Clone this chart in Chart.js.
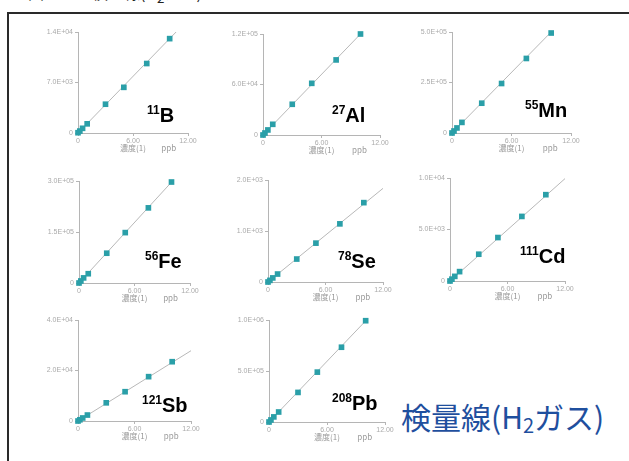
<!DOCTYPE html>
<html>
<head>
<meta charset="utf-8">
<script src="https://cdn.jsdelivr.net/npm/chart.js@4"></script>
<style>
  body { margin: 0; background: #fff; width: 629px; height: 461px; overflow: hidden; position: relative; font-family: "Liberation Sans", Arial, sans-serif; }
  .frame { position: absolute; left: 7px; top: 12px; width: 700px; height: 500px; border-top: 2px solid #2a2a2a; border-left: 2px solid #2a2a2a; }
  .fig { position: absolute; left: 28px; top: -16px; font: 16px "Noto Sans CJK JP"; line-height: 16px; color: #222; white-space: nowrap; }
  .panel { position: absolute; }
  .el { position: absolute; font-size: 20px; font-weight: bold; line-height: 20px; color: #000; white-space: nowrap; }
  .el span { font-size: 12px; position: relative; top: -8px; }
  .note { position: absolute; left: 401px; top: 396px; font: 30px "Noto Sans CJK JP"; line-height: 40px; color: #1f4f9e; white-space: nowrap; }
  .note sub { font-size: 20px; vertical-align: -4px; line-height: 0; }
</style>
</head>
<body>
<div class="fig">図　　　検量線(H<sub>2</sub>ガス)</div>
<div class="frame"></div>
<div id="wrap"></div>
<div class="note">検量線(H<sub>2</sub>ガス)</div>
<script>
// calibration standards, ppb
const conc = [0, 0.2, 0.5, 1, 3, 5, 7.5, 10];
const fitX = [0, 12];

const elements = ['B', 'Al', 'Mn', 'Fe', 'Se', 'Cd', 'Sb', 'Pb'];
const masses = ['11', '27', '55', '56', '78', '111', '121', '208'];
const yTop = [14000, 120000, 500000, 300000, 2000, 10000, 40000, 1000000];

const b11 = [40, 270, 650, 1270, 3990, 6330, 9630, 13080];
const al27 = [0, 2400, 6000, 12700, 36500, 61400, 89200, 120000];
const mn55 = [0, 10000, 25000, 52500, 147500, 245000, 369000, 495000];
const fe56 = [0, 6000, 15000, 27300, 87600, 148200, 221000, 297000];
const se78 = [0, 32, 80, 156, 450, 762, 1140, 1556];
const cd111 = [0, 180, 450, 910, 2600, 4220, 6270, 8380];
const sb121 = [0, 480, 1200, 2360, 7200, 11600, 17560, 23480];
const pb208 = [0, 20000, 50000, 98000, 290000, 489000, 733000, 993000];

const b11Fit = [0, 15700];
const al27Fit = [0, 144000];
const mn55Fit = [0, 600000];
const fe56Fit = [0, 356000];
const se78Fit = [0, 1836];
const cd111Fit = [0, 9940];
const sb121Fit = [0, 27840];
const pb208Fit = [0, 1190000];

const series = [b11, al27, mn55, fe56, se78, cd111, sb121, pb208];
const fits = [b11Fit, al27Fit, mn55Fit, fe56Fit, se78Fit, cd111Fit, sb121Fit, pb208Fit];

// plot area: left, top, width, height
const boxes = [
  [78, 32, 110, 101], [263, 34, 117, 101], [452, 32, 119, 101],
  [79, 181, 111, 102], [268, 180, 115, 102], [450, 178, 115, 103],
  [78, 320, 113, 101], [269, 320, 116, 102]
];
// element label: left, baseline
const labelPos = [
  [147, 122], [332, 122], [525, 117],
  [145, 268], [338, 268], [520, 263],
  [142, 412], [332, 410]
];

function fmtE(v) {
  if (v === 0) return '0';
  const e = Math.floor(Math.log10(v) + 1e-9);
  const m = v / Math.pow(10, e);
  return m.toFixed(1) + 'E+' + String(e).padStart(2, '0');
}

const axisNote = {
  id: 'axisNote',
  afterDraw(c) {
    const ctx = c.ctx, x = c.scales.x, y0 = c.chartArea.bottom;
    ctx.save();
    ctx.font = '8px "Noto Sans CJK JP"';
    ctx.fillStyle = '#999';
    ctx.textAlign = 'center';
    ctx.textBaseline = 'middle';
    ctx.fillText('濃度(1)', x.getPixelForValue(6), y0 + 15);
    ctx.fillText('ppb', x.getPixelForValue(9.9), y0 + 15);
    ctx.restore();
  }
};

const wrap = document.getElementById('wrap');

elements.forEach(function(el, i) {
  const [x0, top, w, h] = boxes[i];
  const div = document.createElement('div');
  div.className = 'panel';
  div.style.left = (x0 - 60) + 'px';
  div.style.top = (top - 10) + 'px';
  const cv = document.createElement('canvas');
  cv.width = w + 70;
  cv.height = h + 40;
  div.appendChild(cv);
  wrap.appendChild(div);

  const lab = document.createElement('div');
  lab.className = 'el';
  lab.style.left = labelPos[i][0] + 'px';
  lab.style.top = (labelPos[i][1] - 17) + 'px';
  lab.innerHTML = '<span>' + masses[i] + '</span>' + el;
  document.body.appendChild(lab);

  const max = yTop[i];
  new Chart(cv.getContext('2d'), {
    type: 'scatter',
    data: {
      datasets: [{
        type: 'line',
        data: fitX.map((x, k) => ({ x: x, y: fits[i][k] })),
        borderColor: '#b8b8b8',
        borderWidth: 1,
        pointRadius: 0,
        fill: false,
        order: 2,
      }, {
        data: conc.map((x, k) => ({ x: x, y: series[i][k] })),
        pointStyle: 'rect',
        pointRadius: 4,
        backgroundColor: '#2a9fa8',
        borderColor: '#2a9fa8',
        borderWidth: 0,
        clip: false,
        order: 1,
      }]
    },
    options: {
      responsive: false,
      animation: false,
      events: [],
      layout: { padding: { top: 10, right: 10, left: 0, bottom: 0 } },
      plugins: { legend: { display: false }, tooltip: { enabled: false } },
      scales: {
        x: {
          type: 'linear',
          min: 0,
          max: 12,
          afterBuildTicks: s => { s.ticks = [{ value: 0 }, { value: 6 }, { value: 12 }]; },
          afterFit: s => { s.height = 30; },
          grid: { drawOnChartArea: false, color: '#b5b5b5', tickLength: 3 },
          border: { color: '#b5b5b5' },
          ticks: {
            font: { family: 'Liberation Sans', size: 7 },
            color: '#aaa',
            padding: 1,
            maxRotation: 0,
            callback: v => v === 0 ? '0' : v.toFixed(2),
          },
        },
        y: {
          min: 0,
          max: max,
          afterBuildTicks: s => { s.ticks = [{ value: 0 }, { value: max / 2 }, { value: max }]; },
          afterFit: s => { s.width = 60; },
          grid: { drawOnChartArea: false, color: '#b5b5b5', tickLength: 3 },
          border: { color: '#b5b5b5' },
          ticks: {
            font: { family: 'Liberation Sans', size: 7 },
            color: '#aaa',
            padding: 2,
            callback: v => fmtE(v),
          },
        },
      },
    },
    plugins: [axisNote],
  });
});
</script>
</body>
</html>
